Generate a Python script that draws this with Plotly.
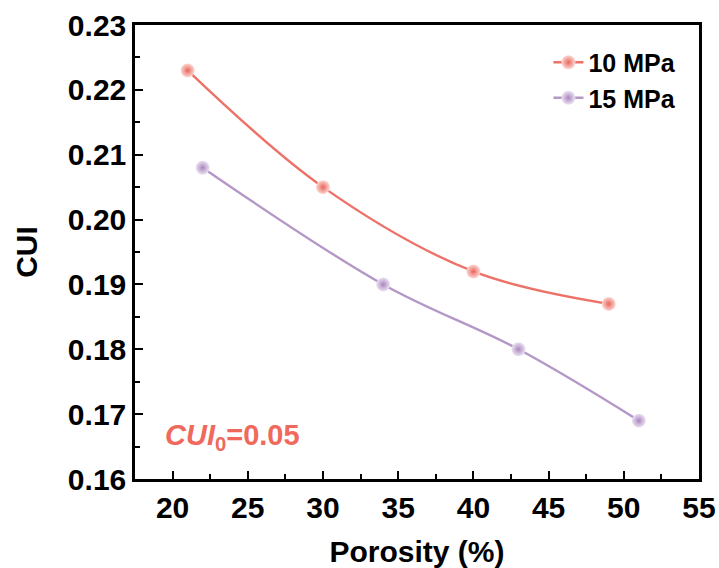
import plotly.graph_objects as go

porosity_10 = [21, 30, 40, 49]
cui_10 = [0.223, 0.205, 0.192, 0.187]
porosity_15 = [22, 34, 43, 51]
cui_15 = [0.208, 0.190, 0.180, 0.169]
names = ["10 MPa", "15 MPa"]

red = "#ee7167"
purple = "#b597c7"
FONT = "Liberation Sans"

fig = go.Figure()
fig.add_trace(go.Scatter(
    x=porosity_10, y=cui_10, name=names[0], mode="lines+markers",
    line=dict(color=red, width=2.4, shape="spline", smoothing=1.0),
    marker=dict(size=14, color="#fcd9d5", gradient=dict(type="radial", color="#e9665b"), line=dict(width=0)),
))
fig.add_trace(go.Scatter(
    x=porosity_15, y=cui_15, name=names[1], mode="lines+markers",
    line=dict(color=purple, width=2.4, shape="spline", smoothing=1.0),
    marker=dict(size=14, color="#ece3f3", gradient=dict(type="radial", color="#a986bd"), line=dict(width=0)),
))

axis_common = dict(
    showline=True, linecolor="black", linewidth=2.5, mirror=True,
    ticks="inside", ticklen=8, tickwidth=2, tickcolor="black",
    showgrid=False, zeroline=False, automargin=False,
    tickfont=dict(family=FONT, size=30, color="black", weight="bold"),
)

fig.update_layout(
    width=719, height=568,
    margin=dict(l=135, r=20, t=25, b=89),
    paper_bgcolor="white", plot_bgcolor="white",
    font=dict(family=FONT, color="black"),
    showlegend=True,
    legend=dict(
        x=0.733, y=0.968, xanchor="left", yanchor="top",
        bgcolor="rgba(0,0,0,0)",
        font=dict(family=FONT, size=25, color="black", weight="bold"),
        tracegroupgap=0,
    ),
    xaxis=dict(
        range=[17.5, 55], dtick=5, tick0=0,
        minor=dict(ticks="inside", ticklen=5, tickwidth=2, dtick=2.5, tick0=0, tickcolor="black"),
        title=dict(text="Porosity (%)", font=dict(family=FONT, size=30, color="black", weight="bold"), standoff=20),
        **axis_common,
    ),
    yaxis=dict(
        range=[0.16, 0.23], dtick=0.01, tick0=0, tickformat=".2f",
        minor=dict(ticks="inside", ticklen=5, tickwidth=2, dtick=0.005, tick0=0, tickcolor="black"),
        title=dict(text="CUI", font=dict(family=FONT, size=30, color="black", weight="bold"), standoff=22),
        **axis_common,
    ),
)

fig.add_annotation(
    x=0.05, y=0.093, xref="paper", yref="paper", xanchor="left", yanchor="middle",
    text="<i>CUI</i><sub>0</sub>=0.05", showarrow=False,
    font=dict(family=FONT, size=29, color="#f0695d", weight="bold"),
)

fig.write_html("out.html")
